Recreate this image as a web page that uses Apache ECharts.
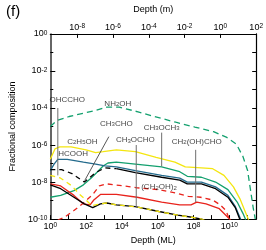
<!DOCTYPE html>
<html><head><meta charset="utf-8">
<script src="https://cdn.jsdelivr.net/npm/echarts@6/dist/echarts.min.js"></script>
<style>html,body{margin:0;padding:0;background:#fff}#c{width:266px;height:250px}</style>
</head><body><div id="c"></div>
<script>
// All values are [log10 depth (ML), log10 fractional composition]
const nh2oh = [[0,-5.0],[0.37,-4.67],[1.05,-4.46],[1.95,-4.26],[2.48,-4.15],[3.16,-3.95],[3.85,-3.95],[4.9,-4.21],[5.8,-4.46],[7.01,-4.77],[8.07,-5.03],[9.12,-5.28],[9.86,-5.59],[10.39,-5.95],[10.76,-6.62],[11.02,-7.38],[11.18,-8.41],[11.34,-9.44],[11.45,-10.0]];
const c2h5oh = [[0,-6.77],[0.26,-6.21],[0.53,-6.10],[1.16,-6.10],[2.0,-6.26],[2.53,-6.41],[2.95,-6.36],[3.69,-6.26],[4.75,-6.36],[5.91,-6.67],[6.96,-6.92],[7.54,-7.18],[8.44,-7.23],[9.07,-7.28],[9.70,-7.64],[10.23,-8.26],[10.60,-8.92],[10.86,-9.54],[11.08,-10.05]];
const greenSolid = [[0,-8.82],[0.58,-8.72],[1.32,-8.46],[1.85,-8.15],[2.27,-7.79],[2.64,-7.44],[2.95,-7.13],[3.22,-6.97],[3.69,-6.92],[4.75,-7.03],[6.22,-7.18],[7.23,-7.44],[7.65,-7.69],[8.44,-7.74],[9.23,-8.0],[9.92,-8.41],[10.44,-9.08],[10.76,-9.69],[10.92,-10.05]];
const hcooh = [[0,-7.38],[0.21,-7.03],[0.42,-6.77],[0.95,-6.77],[1.85,-6.92],[2.53,-7.03],[3.06,-7.13],[3.69,-7.18],[4.75,-7.38],[6.22,-7.64],[7.23,-7.79],[7.65,-8.0],[8.44,-8.0],[9.23,-8.26],[9.92,-8.72],[10.34,-9.33],[10.65,-10.05]];
const blackMid = [[3.69,-7.28],[4.75,-7.49],[6.22,-7.74],[7.23,-7.90],[7.65,-8.10],[8.44,-8.10],[9.23,-8.36],[9.92,-8.82],[10.34,-9.40],[10.6,-10.05]];
const ch3cho = [[0,-7.33],[0.63,-7.33],[1.21,-7.54],[1.90,-8.0],[2.53,-7.49],[3.06,-7.23],[3.69,-7.28]];
const ch2oh2 = [[0.42,-10.05],[0.79,-9.9],[1.32,-9.54],[1.85,-9.13],[2.37,-8.67],[2.74,-8.21],[3.16,-8.1],[4.11,-8.21],[4.85,-8.31],[6.07,-8.41],[7.12,-8.62],[7.7,-8.77],[8.39,-8.82],[9.07,-8.97],[9.49,-9.23],[9.81,-9.54],[10.02,-10.05]];
const glycolaldehyde = [[0,-8.1],[0.58,-8.21],[1.32,-8.72],[1.85,-9.18],[2.22,-9.23],[2.43,-8.97],[2.80,-8.67],[3.69,-8.67],[4.85,-8.82],[6.22,-9.08],[7.23,-9.23],[7.86,-9.23],[8.18,-9.08],[8.70,-9.18],[9.44,-9.44],[9.86,-9.85],[10.07,-10.05]];
const blackBottom = [[0,-8.15],[0.58,-8.36],[1.32,-8.82],[1.9,-9.18],[2.37,-9.38],[2.8,-9.18],[3.16,-9.13],[3.69,-9.23],[4.75,-9.33],[6.07,-9.59],[7.12,-9.79],[7.91,-9.9],[8.44,-10.0],[8.76,-10.1]];
const ohccho = [[0,-7.64],[0.58,-7.79],[1.21,-8.21],[1.64,-8.67],[2.0,-8.97],[2.32,-9.28],[2.37,-9.38],[2.8,-9.18],[3.16,-9.13],[3.69,-9.23],[4.75,-9.33],[6.07,-9.59],[7.12,-9.79],[7.91,-9.9],[8.44,-10.0],[8.76,-10.1]];

// label sticks: [x, yTop, yBottom]
const sticks = [[0.42,-4.0,-7.64],[4.8,-6.0,-9.38],[6.22,-5.33,-7.15],[8.12,-6.26,-9.08]];
const arrowLine = [[3.27,-5.55],[1.92,-7.92]];
// annotations: text with _n subscripts, [x, y]
const annotations = [
  ['OHCCHO',0.95,-3.55],['NH_2OH',3.77,-3.75],['CH_3CHO',3.69,-4.85],['C_2H_5OH',1.79,-5.82],
  ['HCOOH',1.27,-6.45],['CH_3OCHO',4.75,-5.74],['CH_3OCH_3',6.22,-5.05],['CH_2(OH)CHO',8.18,-5.8],['(CH_2OH)_2',6.07,-8.28]
];
const bottomTicks = [0,1,2,3,4,5,6,7,8,9,10,11];
const bottomLabels = [0,2,4,6,8,10];
const topTicks = [-8,-6,-4,-2,0,2];

const FONT = 'Liberation Sans';
function sup(v){ return '{b|10}{s|' + v + '}'; }
const supRich = {
  b:{fontSize:9,lineHeight:9,padding:[4,0,0,0],verticalAlign:'bottom',fontFamily:FONT,color:'#000'},
  s:{fontSize:6.5,lineHeight:7,verticalAlign:'top',fontFamily:FONT,color:'#000'}
};
function chem(t){
  return t.replace(/([^_]+)|_(\d)/g,(m,a,d)=> a!==undefined ? '{n|'+a+'}' : '{d|'+d+'}');
}
const chemRich = {
  n:{fontSize:8,lineHeight:8,padding:[0,0,3,0],verticalAlign:'top',fontFamily:FONT,color:'#111'},
  d:{fontSize:6,lineHeight:6,verticalAlign:'bottom',fontFamily:FONT,color:'#111'}
};

function line(data,color,type,z){
  return {type:'line',data:data,symbol:'none',xAxisIndex:0,yAxisIndex:0,animation:false,z:z||2,
    lineStyle:{color:color,width:1.3,type:type},emphasis:{disabled:true}};
}
const GREEN='#13a06e', YELLOW='#f4e610', BLUE='#236a8c', RED='#e8231c', BLACK='#000';

const series = [
  line(nh2oh,GREEN,[6,4]),
  line(c2h5oh,YELLOW,'solid'),
  line(greenSolid,GREEN,'solid'),
  line(hcooh,BLUE,'solid'),
  line(blackMid,BLACK,'solid'),
  line(ch3cho,BLACK,[5,4]),
  line(ch2oh2,RED,[5,4]),
  line(glycolaldehyde,RED,'solid'),
  line(blackBottom,BLACK,'solid'),
  line(ohccho,YELLOW,[5,4],3)
];
sticks.forEach(s=>{
  series.push({type:'line',data:[[s[0],s[1]],[s[0],s[2]]],symbol:'none',animation:false,z:4,
    lineStyle:{color:'#6e6e6e',width:1},emphasis:{disabled:true}});
});
series.push({type:'line',data:[],animation:false,markLine:{silent:true,symbol:['none','arrow'],symbolSize:[0,5],animation:false,
  lineStyle:{color:'#444',width:0.9,type:'solid'},label:{show:false},
  data:[[{coord:arrowLine[0]},{coord:arrowLine[1]}]]}});
series.push({type:'scatter',symbol:'circle',symbolSize:1,itemStyle:{color:'rgba(0,0,0,0)'},animation:false,z:5,
  data:annotations.map(a=>({value:[a[1],a[2]],label:{formatter:chem(a[0])}})),
  label:{show:true,position:'inside',rich:chemRich,color:'#000'},emphasis:{disabled:true}});

const chart = echarts.init(document.getElementById('c'),null,{renderer:'canvas'});
chart.setOption({
  animation:false,
  title:{text:'(f)',left:1,top:-1,textStyle:{fontSize:15,fontWeight:'normal',fontFamily:FONT,color:'#000'}},
  grid:{left:40,right:8,top:26,bottom:29},
  xAxis:[
    {type:'value',position:'bottom',min:0,max:11.5,
     name:'Depth (ML)',nameLocation:'middle',nameGap:16,nameTextStyle:{fontSize:9,fontFamily:FONT,color:'#000'},
     axisLine:{onZero:false,lineStyle:{color:'#000',width:1.2}},splitLine:{show:false},
     axisTick:{inside:true,length:4,customValues:bottomTicks,lineStyle:{color:'#000'}},
     axisLabel:{customValues:bottomLabels,margin:3,formatter:v=>sup(v),rich:supRich}},
    {type:'value',position:'top',min:-9.5,max:2,
     name:'Depth (m)',nameLocation:'middle',nameGap:17,nameTextStyle:{fontSize:9,fontFamily:FONT,color:'#000'},
     axisLine:{onZero:false,lineStyle:{color:'#000',width:1.2}},splitLine:{show:false},
     axisTick:{inside:true,length:4,customValues:topTicks,lineStyle:{color:'#000'}},
     axisLabel:{customValues:topTicks,margin:2,formatter:v=>sup(v),rich:supRich}}
  ],
  yAxis:[
    {type:'value',position:'left',min:-10,max:0,interval:2,
     name:'Fractional composition',nameLocation:'middle',nameGap:26,nameTextStyle:{fontSize:9,fontFamily:FONT,color:'#000'},
     axisLine:{onZero:false,lineStyle:{color:'#333',width:1.5}},splitLine:{show:false},
     axisTick:{inside:true,length:5,lineStyle:{color:'#000'}},
     minorTick:{show:true,splitNumber:2,length:3,lineStyle:{color:'#000'}},minorSplitLine:{show:false},
     axisLabel:{margin:3,formatter:v=>sup(v),rich:supRich}},
    {type:'value',position:'right',min:-10,max:0,interval:1,
     axisLine:{show:true,onZero:false,lineStyle:{color:'#000',width:1.2}},splitLine:{show:false},
     axisTick:{inside:true,length:4,lineStyle:{color:'#000'}},axisLabel:{show:false}}
  ],
  series:series
});
</script></body></html>
